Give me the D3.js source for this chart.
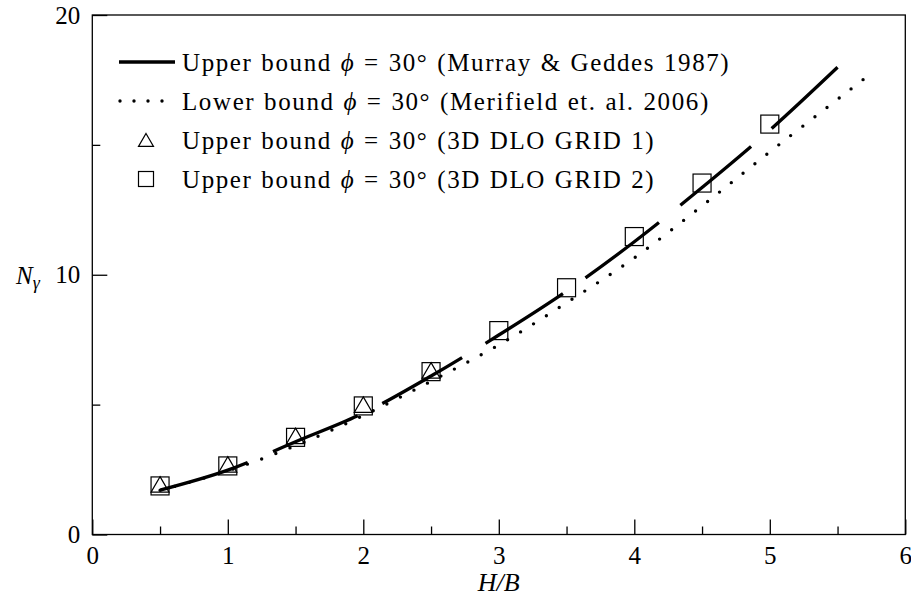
<!DOCTYPE html>
<html><head><meta charset="utf-8">
<script src="https://cdn.jsdelivr.net/npm/d3@7"></script>
<style>body{margin:0;background:#fff}</style>
</head><body>
<svg id="c" width="911" height="605"></svg>
<script>
// ---- data ----
const upperX = [0.5, 1, 1.5, 2, 2.5, 3, 3.5, 4, 4.5, 5, 5.5];
const upperY = [1.71, 2.48, 3.57, 4.67, 6.1, 7.68, 9.37, 11.27, 13.36, 15.57, 17.99];
const lowerX = [0.5, 1, 1.5, 2, 2.5, 3, 3.5, 4, 4.5, 5, 5.74];
const lowerY = [1.7, 2.45, 3.42, 4.58, 5.9, 7.3, 8.92, 10.65, 12.65, 14.73, 17.72];
const grid1X = [0.5, 1, 1.5, 2, 2.5];
const grid1Y = [1.88, 2.65, 3.75, 4.95, 6.27];
const grid2X = [0.5, 1, 1.5, 2, 2.5, 3, 3.5, 4, 4.5, 5];
const grid2Y = [1.87, 2.64, 3.74, 4.95, 6.27, 7.85, 9.5, 11.47, 13.53, 15.8];
const xMajor = [0, 1, 2, 3, 4, 5, 6];
const xMinor = [0.5, 1.5, 2.5, 3.5, 4.5, 5.5];
const yMajor = [0, 10, 20];
const yMinor = [5, 15];
const legendLabels = [
  ["Upper bound ", "(Murray & Geddes 1987)"],
  ["Lower bound ", "(Merifield et. al. 2006)"],
  ["Upper bound ", "(3D DLO GRID 1)"],
  ["Upper bound ", "(3D DLO GRID 2)"]
];

const FONT = "'Liberation Serif', 'Times New Roman', serif";
const svg = d3.select("#c");
const x = d3.scaleLinear().domain([0, 6]).range([92.3, 905.3]);
const y = d3.scaleLinear().domain([0, 20]).range([534.5, 15]);

// axes
function styleAxis(g) {
  g.select(".domain").remove();
  g.selectAll("line").attr("stroke", "#000").attr("stroke-width", 1.3);
  g.selectAll("text").attr("font-family", FONT).attr("font-size", 25).attr("fill", "#000");
}
svg.append("g").attr("transform", `translate(0,${y(0)})`)
  .call(d3.axisBottom(x).tickValues(xMinor).tickSize(-8).tickFormat(""))
  .call(styleAxis);
svg.append("g").attr("transform", `translate(0,${y(0)})`)
  .call(d3.axisBottom(x).tickValues(xMajor).tickSize(-15).tickPadding(12).tickFormat(d3.format("d")))
  .call(styleAxis);
svg.append("g").attr("transform", `translate(${x(0)},0)`)
  .call(d3.axisLeft(y).tickValues(yMinor).tickSize(-8).tickFormat(""))
  .call(styleAxis);
svg.append("g").attr("transform", `translate(${x(0)},0)`)
  .call(d3.axisLeft(y).tickValues(yMajor).tickSize(-15).tickPadding(12).tickFormat(d3.format("d")))
  .call(styleAxis);

// frame
svg.append("rect").attr("x", x(0)).attr("y", y(20))
  .attr("width", x(6) - x(0)).attr("height", y(0) - y(20))
  .attr("fill", "none").attr("stroke", "#000").attr("stroke-width", 1.3);

// lines
const line = d3.line().x(d => x(d[0])).y(d => y(d[1])).curve(d3.curveCatmullRom);
const upper = upperX.map((v, i) => [v, upperY[i]]);
const lower = lowerX.map((v, i) => [v, lowerY[i]]);
svg.append("path").attr("d", line(lower)).attr("fill", "none")
  .attr("stroke", "#000").attr("stroke-width", 3.4)
  .attr("stroke-linecap", "round").attr("stroke-dasharray", "0 15.2");
svg.append("path").attr("d", line(upper)).attr("fill", "none")
  .attr("stroke", "#000").attr("stroke-width", 3.3)
  .attr("stroke-dasharray", "92 27.5");

// markers
const triPath = s => `M0,${-s/2}L${s/2},${s*0.36}L${-s/2},${s*0.36}Z`;
svg.append("g").selectAll("path").data(grid1X.map((v, i) => [v, grid1Y[i]])).join("path")
  .attr("transform", d => `translate(${x(d[0])},${y(d[1])})`)
  .attr("d", triPath(18)).attr("fill", "none").attr("stroke", "#000").attr("stroke-width", 1.2);
svg.append("g").selectAll("rect").data(grid2X.map((v, i) => [v, grid2Y[i]])).join("rect")
  .attr("x", d => x(d[0]) - 9).attr("y", d => y(d[1]) - 9)
  .attr("width", 18).attr("height", 18)
  .attr("fill", "none").attr("stroke", "#000").attr("stroke-width", 1.2);

// legend
const rowY = [62, 101, 140, 179];
const lg = svg.append("g");
lg.append("line").attr("x1", 119).attr("x2", 175).attr("y1", rowY[0]).attr("y2", rowY[0])
  .attr("stroke", "#000").attr("stroke-width", 3.3);
lg.append("line").attr("x1", 120).attr("x2", 163).attr("y1", rowY[1]).attr("y2", rowY[1])
  .attr("stroke", "#000").attr("stroke-width", 3.4).attr("stroke-linecap", "round")
  .attr("stroke-dasharray", "0 14");
lg.append("path").attr("transform", `translate(146,${rowY[2] + 1})`).attr("d", triPath(15))
  .attr("fill", "none").attr("stroke", "#000").attr("stroke-width", 1.2);
lg.append("rect").attr("x", 138.5).attr("y", rowY[3] - 7.5).attr("width", 15).attr("height", 15)
  .attr("fill", "none").attr("stroke", "#000").attr("stroke-width", 1.2);
legendLabels.forEach((l, i) => {
  const t = lg.append("text").attr("x", 182).attr("y", rowY[i]).attr("dy", "0.35em")
    .attr("font-family", FONT).attr("font-size", 25).attr("fill", "#000")
    .attr("letter-spacing", 1.6).attr("word-spacing", 1);
  t.append("tspan").text(l[0]);
  t.append("tspan").attr("font-style", "italic").text("ϕ");
  t.append("tspan").text(" = 30° ");
  t.append("tspan").text(l[1]);
});

// axis titles
const ny = svg.append("text").attr("x", 16).attr("y", y(10)).attr("dy", "0.35em")
  .attr("font-family", FONT).attr("font-size", 25).attr("fill", "#000");
ny.append("tspan").attr("font-style", "italic").text("N");
ny.append("tspan").attr("font-style", "italic").attr("font-size", 18).attr("dy", "0.3em").text("γ");
svg.append("text").attr("x", x(3)).attr("y", 582).attr("dy", "0.35em").attr("text-anchor", "middle")
  .attr("font-family", FONT).attr("font-size", 26).attr("font-style", "italic").attr("fill", "#000")
  .text("H/B");
</script>
</body></html>
